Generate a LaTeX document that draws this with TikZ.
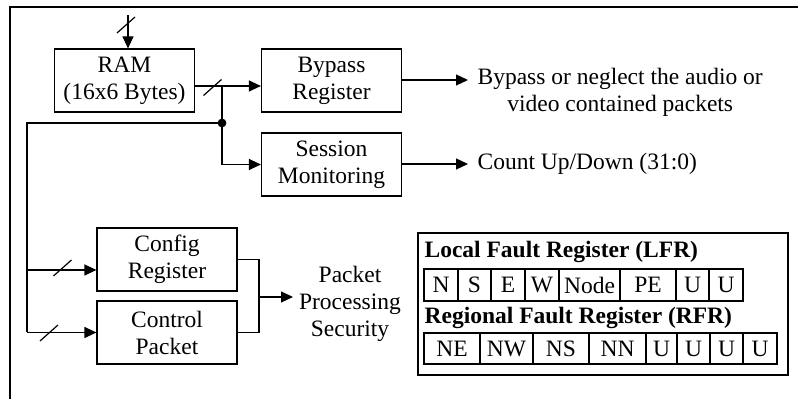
\documentclass[tikz,border=0pt]{standalone}
\usepackage{fontspec}
\setmainfont{Liberation Serif}
\usetikzlibrary{arrows.meta}

\tikzset{
    block/.style={draw, line width=0.6pt, minimum width=70pt, minimum height=31.5pt, align=center, inner sep=0pt},
    arr/.style={-{Triangle[length=6pt,width=5.5pt]}},
}
\newcommand{\busslash}[1]{\draw (#1) +(-9,8) -- +(9,-8);}

\begin{document}
\begin{tikzpicture}[x=0.5pt, y=-0.5pt, line width=0.6pt, font=\fontsize{11.75}{13.5}\selectfont]

    \useasboundingbox (0,0) rectangle (798,399);
    \draw[line width=0.8pt] (10,399) -- (10,7) -- (798,7);

    % blocks
    \node[block] (ram) at (124.5,80.5) {RAM\\(16x6 Bytes)};
    \node[block] (byp) at (331.5,80.5) {Bypass\\Register};
    \node[block] (ses) at (331.5,164.5) {Session\\Monitoring};
    \node[block] (cfg) at (167,259.5) {Config\\Register};
    \node[block] (ctl) at (167,332.5) {Control\\Packet};

    % RAM input
    \coordinate (ramin) at (128,15);
    \draw[arr] (ramin) -- (ramin |- ram.north);
    \busslash{126,25}

    % RAM output to bypass and session
    \coordinate (split) at (222,86);
    \coordinate (dot) at (222,123);
    \draw (ram.east |- split) -- (split);
    \draw[arr] (split) -- (split -| byp.west);
    \busslash{212.5,87.5}
    \draw[arr] (split) -- (dot) |- (ses.west);
    \fill (dot) circle [radius=2.2pt];

    % feedback to config and control
    \coordinate (left) at (27,123);
    \coordinate (cfgin) at (27,270);
    \draw (dot) -- (left) -- (left |- ctl.west);
    \draw[arr] (cfgin) -- (cfgin -| cfg.west);
    \draw[arr] (left |- ctl.west) -- (ctl.west);
    \busslash{62.5,268}
    \busslash{49,333}

    % outputs
    \node[anchor=west, align=center, inner sep=0pt] (bypout) at (477,92) {Bypass or neglect the audio or\\video contained packets};
    \coordinate (bypend) at (468,80);
    \draw[arr] (byp.east |- bypend) -- (bypend);
    \node[anchor=west, inner sep=0pt] (sesout) at (477,164) {Count Up/Down (31:0)};
    \draw[arr] (ses.east |- sesout) -- ([xshift=-4.5pt]sesout.west);

    \coordinate (merge) at (259,297);
    \node[align=center, inner sep=0pt] (pps) at (350,304) {Packet\\Processing\\Security};
    \draw (cfg.east) -| (merge) |- (ctl.east);
    \draw[arr] (merge) -- (293,297);

    % fault registers
    \draw (418,233) rectangle (788,375);
    \node[anchor=west, inner sep=0pt, font=\fontsize{11.75}{13.5}\selectfont\bfseries] (lfrt) at (424,252) {Local Fault Register (LFR)};
    \foreach \a/\b/\t [count=\i] in {424/458/N, 458/491/S, 491/525/E, 525/559/W, 559/620/Node, 620/676/PE, 676/709/U, 709/743/U} {
        \draw (\a,269) rectangle (\b,301);
        \node[inner sep=0pt] (lfr\i) at ({(\a+\b)/2},285) {\t};
    }
    \node[anchor=west, inner sep=0pt, font=\fontsize{11.75}{13.5}\selectfont\bfseries] (rfrt) at (424,318) {Regional Fault Register (RFR)};
    \foreach \a/\b/\t [count=\i] in {424/480/NE, 480/533/NW, 533/589/NS, 589/646/NN, 646/677/U, 677/710/U, 710/743/U, 743/777/U} {
        \draw (\a,333) rectangle (\b,364);
        \node[inner sep=0pt] (rfr\i) at ({(\a+\b)/2},348.5) {\t};
    }

\end{tikzpicture}
\end{document}
